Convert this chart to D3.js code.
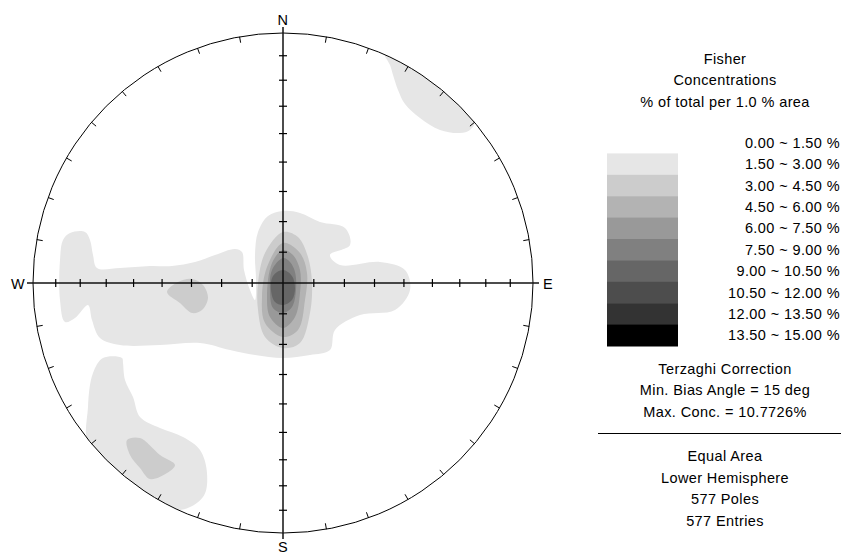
<!DOCTYPE html>
<html>
<head>
<meta charset="utf-8">
<script src="https://cdn.jsdelivr.net/npm/d3@7"></script>
<style>
  body { margin: 0; background: #fff; }
  svg { display: block; font-family: "Liberation Sans", Arial, sans-serif; }
  .net-text { font-size: 14.5px; letter-spacing: 0.4px; fill: #000; }
</style>
</head>
<body>
<div id="chart"></div>
<script>
// contour classes (% of total per 1% area)
var levelLabels = ['0.00 ~ 1.50 %', '1.50 ~ 3.00 %', '3.00 ~ 4.50 %', '4.50 ~ 6.00 %',
  '6.00 ~ 7.50 %', '7.50 ~ 9.00 %', '9.00 ~ 10.50 %', '10.50 ~ 12.00 %',
  '12.00 ~ 13.50 %', '13.50 ~ 15.00 %'];
var levelColors = ['#ffffff', '#e6e6e6', '#cccccc', '#b3b3b3', '#999999',
  '#808080', '#666666', '#4d4d4d', '#333333', '#000000'];

// contour outlines in net coordinates (x = east, y = north, unit circle)
var bandOuter = [[-0.852,0.20],[-0.792,0.204],[-0.772,0.172],[-0.76,0.112],[-0.744,0.06],
  [-0.652,0.06],[-0.532,0.068],[-0.444,0.068],[-0.352,0.084],[-0.272,0.112],[-0.192,0.136],
  [-0.164,0.124],[-0.156,0.052],[-0.132,-0.028],[-0.112,-0.068],[-0.108,0.012],[-0.112,0.112],
  [-0.10,0.204],[-0.06,0.268],[0,0.288],[0.068,0.28],[0.148,0.244],[0.248,0.22],[0.268,0.152],
  [0.188,0.112],[0.228,0.072],[0.388,0.084],[0.488,0.052],[0.508,-0.028],[0.448,-0.108],
  [0.308,-0.128],[0.208,-0.188],[0.188,-0.268],[0.108,-0.288],[0,-0.30],[-0.112,-0.288],
  [-0.212,-0.268],[-0.332,-0.24],[-0.492,-0.248],[-0.652,-0.248],[-0.732,-0.22],[-0.764,-0.148],
  [-0.78,-0.088],[-0.832,-0.14],[-0.872,-0.156],[-0.892,-0.068],[-0.892,0.092],[-0.88,0.172]];
var bandWest = [[-0.464,-0.036],[-0.42,0.004],[-0.364,0.016],[-0.32,-0.008],[-0.30,-0.06],
  [-0.324,-0.108],[-0.364,-0.12],[-0.412,-0.08]];
var northEast = [[0.408,0.912],[0.588,0.812],[0.768,0.652],[0.748,0.612],[0.708,0.6],
  [0.628,0.612],[0.548,0.66],[0.488,0.716],[0.46,0.772],[0.44,0.832],[0.428,0.872]];
var southWest = [[-0.72,-0.30],[-0.644,-0.30],[-0.64,-0.32],[-0.632,-0.388],[-0.60,-0.456],
  [-0.572,-0.536],[-0.492,-0.58],[-0.40,-0.616],[-0.332,-0.668],[-0.304,-0.76],[-0.32,-0.856],
  [-0.432,-0.908],[-0.772,-0.668],[-0.78,-0.496],[-0.76,-0.36]];
var southWestCore = [[-0.624,-0.628],[-0.572,-0.62],[-0.492,-0.688],[-0.432,-0.728],
  [-0.464,-0.76],[-0.532,-0.784],[-0.572,-0.74],[-0.612,-0.688]];
var centre2 = [[0,0.204],[0.06,0.184],[0.10,0.104],[0.116,0],[0.108,-0.12],[0.068,-0.24],
  [0,-0.26],[-0.072,-0.216],[-0.10,-0.108],[-0.10,0],[-0.072,0.12]];
var centre3 = [[0,0.16],[0.068,0.12],[0.096,0.04],[0.088,-0.068],[0.06,-0.188],[0,-0.216],
  [-0.072,-0.16],[-0.084,-0.056],[-0.064,0.064]];
var centre4 = [[0,0.132],[0.04,0.112],[0.068,0.052],[0.068,-0.04],[0.048,-0.136],[0,-0.18],
  [-0.052,-0.136],[-0.064,-0.056],[-0.044,0.08]];
var centre5 = [[0,0.10],[0.028,0.084],[0.048,0.044],[0.052,-0.028],[0.036,-0.096],[0,-0.12],
  [-0.04,-0.10],[-0.052,-0.028],[-0.044,0.052]];
var centre6 = [[0,0.052],[0.036,0.028],[0.048,-0.02],[0.036,-0.068],[0,-0.088],
  [-0.032,-0.076],[-0.048,-0.028],[-0.04,0.028]];

var contours = [
  { level: 1, pts: bandOuter }, { level: 1, pts: northEast }, { level: 1, pts: southWest },
  { level: 2, pts: bandWest }, { level: 2, pts: southWestCore }, { level: 2, pts: centre2 },
  { level: 3, pts: centre3 }, { level: 4, pts: centre4 }, { level: 5, pts: centre5 },
  { level: 6, pts: centre6 }
];

var plungeTicks = [10, 20, 30, 40, 50, 60, 70, 80];
var azimuthTicks = d3.range(0, 360, 10);
var infoTop = ['Fisher', 'Concentrations', '% of total per 1.0 % area'];
var infoMid = ['Terzaghi Correction', 'Min. Bias Angle = 15 deg', 'Max. Conc. = 10.7726%'];
var infoBottom = ['Equal Area', 'Lower Hemisphere', '577 Poles', '577 Entries'];

var width = 841, height = 555;
var cx = 283, cy = 283, R = 250;

var svg = d3.select('#chart').append('svg')
  .attr('width', width).attr('height', height);

var x = d3.scaleLinear().domain([-1, 1]).range([cx - R, cx + R]);
var y = d3.scaleLinear().domain([-1, 1]).range([cy + R, cy - R]);

svg.append('clipPath').attr('id', 'net-clip')
  .append('circle').attr('cx', cx).attr('cy', cy).attr('r', R);

var area = d3.line()
  .x(function(d) { return x(d[0]); })
  .y(function(d) { return y(d[1]); })
  .curve(d3.curveCatmullRomClosed.alpha(0.5));

svg.append('g').attr('clip-path', 'url(#net-clip)')
  .selectAll('path')
  .data(contours)
  .enter()
  .append('path')
  .attr('d', function(d) { return area(d.pts); })
  .attr('fill', function(d) { return levelColors[d.level]; });

// primitive circle
svg.append('circle')
  .attr('cx', cx).attr('cy', cy).attr('r', R)
  .attr('fill', 'none').attr('stroke', '#000').attr('stroke-width', 1);

// equal-area distance from centre for a plunge along an axis
function eqArea(p) {
  return Math.SQRT2 * Math.sin((90 - p) / 2 * Math.PI / 180);
}

// cross hairs
var ext = 6 / R;
svg.append('line').attr('x1', x(0)).attr('x2', x(0))
  .attr('y1', y(1 + ext)).attr('y2', y(-1 - ext))
  .attr('stroke', '#111').attr('stroke-width', 1.5);
svg.append('line').attr('x1', x(-1 - ext)).attr('x2', x(1 + ext))
  .attr('y1', y(0)).attr('y2', y(0))
  .attr('stroke', '#111').attr('stroke-width', 1.5);

var axisTicks = [];
[0, 90, 180, 270].forEach(function(az) {
  plungeTicks.forEach(function(p) { axisTicks.push({ az: az, r: eqArea(p) }); });
});
svg.append('g').selectAll('line')
  .data(axisTicks)
  .enter()
  .append('line')
  .each(function(d) {
    var a = d.az * Math.PI / 180, ux = Math.sin(a), uy = Math.cos(a);
    var px = x(d.r * ux), py = y(d.r * uy), h = 4;
    d3.select(this)
      .attr('x1', px - uy * h).attr('y1', py - ux * h)
      .attr('x2', px + uy * h).attr('y2', py + ux * h);
  })
  .attr('stroke', '#000').attr('stroke-width', 1.2);

// azimuth ticks on the primitive
svg.append('g').selectAll('line')
  .data(azimuthTicks.filter(function(a) { return a % 90 !== 0; }))
  .enter()
  .append('line')
  .attr('x1', function(a) { return x(Math.sin(a * Math.PI / 180)); })
  .attr('y1', function(a) { return y(Math.cos(a * Math.PI / 180)); })
  .attr('x2', function(a) { return x((1 - 6 / R) * Math.sin(a * Math.PI / 180)); })
  .attr('y2', function(a) { return y((1 - 6 / R) * Math.cos(a * Math.PI / 180)); })
  .attr('stroke', '#000').attr('stroke-width', 1);

// compass letters
var compass = [
  { t: 'N', x: x(0), y: y(1) - 13 }, { t: 'S', x: x(0), y: y(-1) + 14 },
  { t: 'W', x: x(-1) - 15, y: y(0) + 1 }, { t: 'E', x: x(1) + 15, y: y(0) + 1 }
];
svg.append('g').selectAll('text')
  .data(compass)
  .enter()
  .append('text')
  .attr('class', 'net-text')
  .attr('x', function(d) { return d.x; })
  .attr('y', function(d) { return d.y; })
  .attr('text-anchor', 'middle')
  .attr('dominant-baseline', 'central')
  .text(function(d) { return d.t; });

// legend
var lx = 725;
svg.append('g').selectAll('text')
  .data(infoTop)
  .enter()
  .append('text')
  .attr('class', 'net-text')
  .attr('x', lx).attr('y', function(d, i) { return 64 + i * 21.3; })
  .attr('text-anchor', 'middle')
  .text(function(d) { return d; });

var bandY = d3.scaleBand().domain(d3.range(levelLabels.length)).range([132, 346]);
var legend = svg.append('g');
legend.selectAll('rect')
  .data(levelColors)
  .enter()
  .append('rect')
  .attr('x', 607).attr('width', 71)
  .attr('y', function(d, i) { return bandY(i); })
  .attr('height', bandY.bandwidth() + 0.5)
  .attr('fill', function(d) { return d; });
legend.selectAll('text')
  .data(levelLabels)
  .enter()
  .append('text')
  .attr('class', 'net-text')
  .attr('x', 840)
  .attr('y', function(d, i) { return bandY(i) + bandY.bandwidth() / 2; })
  .attr('dominant-baseline', 'central')
  .attr('text-anchor', 'end')
  .text(function(d) { return d; });

svg.append('g').selectAll('text')
  .data(infoMid)
  .enter()
  .append('text')
  .attr('class', 'net-text')
  .attr('x', lx).attr('y', function(d, i) { return 374 + i * 21.3; })
  .attr('text-anchor', 'middle')
  .text(function(d) { return d; });

svg.append('line')
  .attr('x1', 598).attr('x2', 841).attr('y1', 433.5).attr('y2', 433.5)
  .attr('stroke', '#000').attr('stroke-width', 1);

svg.append('g').selectAll('text')
  .data(infoBottom)
  .enter()
  .append('text')
  .attr('class', 'net-text')
  .attr('x', lx).attr('y', function(d, i) { return 461 + i * 21.7; })
  .attr('text-anchor', 'middle')
  .text(function(d) { return d; });
</script>
</body>
</html>
